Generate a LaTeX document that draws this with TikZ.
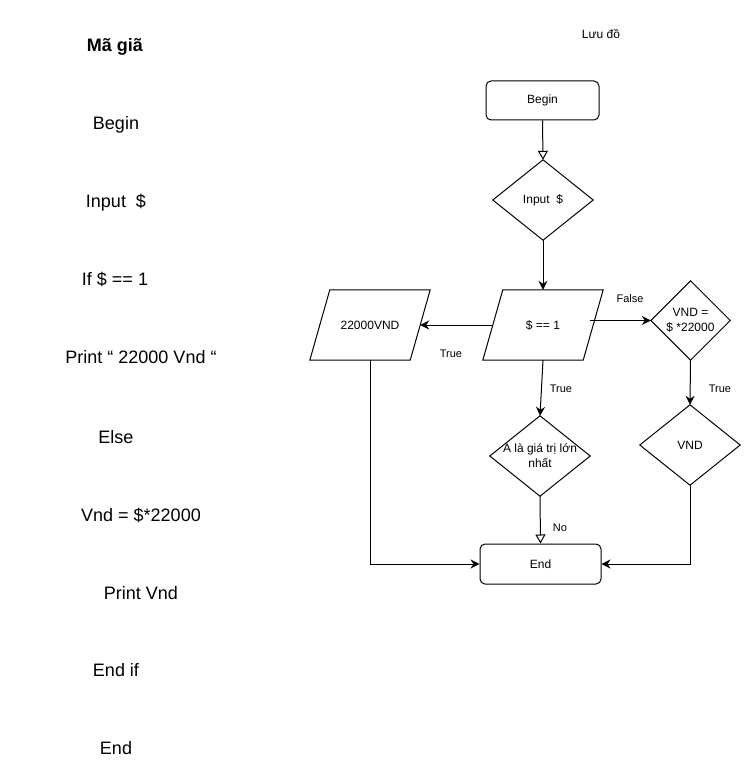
\documentclass[tikz,border=0pt]{standalone}
\usepackage{fontspec}
\setmainfont{Liberation Sans}
\usetikzlibrary{arrows.meta}
\begin{document}
\begin{tikzpicture}[x=1pt,y=-1pt,
  font=\fontsize{12}{15}\selectfont,
  lbl/.style={font=\fontsize{11}{13}\selectfont, inner sep=0},
  code/.style={font=\fontsize{18}{21}\selectfont, inner sep=0},
  box/.style={draw, rounded corners=5pt, line width=1pt, inner sep=0},
  shp/.style={inner sep=0, align=center},
  outl/.style={line width=1pt, line join=miter},
  flow/.style={-{Stealth[length=9pt,width=9pt,inset=3pt]}, line width=1pt},
  oflow/.style={-{Triangle[open,length=9pt,width=10pt]}, line width=1pt},
]
\useasboundingbox (0,0) rectangle (746,781);

% ---- pseudo-code column ----
\node[code, font=\fontsize{18}{21}\selectfont\bfseries] (t0) at (115,47) {Mã giã};
\node[code] (t1) at (116,125) {Begin};
\node[code] (t2) at (116,203) {Input\ \ \$};
\node[code] (t3) at (115,279) {If \$ == 1};
\node[code] (t4) at (141,357) {Print “ 22000 Vnd “};
\node[code] (t5) at (116,437) {Else};
\node[code] (t6) at (141,515) {Vnd = \$*22000};
\node[code] (t7) at (141,593) {Print Vnd};
\node[code] (t8) at (116,670) {End if};
\node[code] (t9) at (116,748) {End};

% ---- flowchart ----
\node[shp] (title) at (601,34) {Lưu đồ};

\node[box, minimum width=113pt, minimum height=39pt] (begin) at (542.5,100.5) {Begin};

\node[shp, minimum width=100pt, minimum height=80pt] (input) at (543,200) {Input\ \ \$};
\draw[outl] (input.north) -- (input.east) -- (input.south) -- (input.west) -- cycle;

\node[shp, minimum width=100pt, minimum height=70pt] (eq) at (543,325) {\$ == 1};
\draw[outl] ([xshift=10pt]eq.north west) -- ([xshift=10pt]eq.north east)
  -- ([xshift=-10pt]eq.south east) -- ([xshift=-10pt]eq.south west) -- cycle;

\node[shp, minimum width=100pt, minimum height=70pt] (p22) at (370,325) {22000VND};
\draw[outl] ([xshift=10pt]p22.north west) -- ([xshift=10pt]p22.north east)
  -- ([xshift=-10pt]p22.south east) -- ([xshift=-10pt]p22.south west) -- cycle;

\node[shp, minimum width=79pt, minimum height=79pt] (vnd1) at (690.5,320.5) {VND =\\\$ *22000};
\draw[outl] (vnd1.north) -- (vnd1.east) -- (vnd1.south) -- (vnd1.west) -- cycle;

\node[shp, minimum width=100pt, minimum height=80pt] (dA) at (540,456) {A là giá trị lớn\\nhất};
\draw[outl] (dA.north) -- (dA.east) -- (dA.south) -- (dA.west) -- cycle;

\node[shp, minimum width=100pt, minimum height=80pt] (vnd2) at (690,445) {VND};
\draw[outl] (vnd2.north) -- (vnd2.east) -- (vnd2.south) -- (vnd2.west) -- cycle;

\node[box, minimum width=121pt, minimum height=40pt] (end) at (540.5,564) {End};

% ---- connectors ----
\draw[oflow] (begin.south) -- (input.north);
\draw[flow] (input.south) -- (eq.north);
\draw[flow] (eq.west) -- (p22.east);
\node[lbl] (lt1) at (451,354) {True};
\coordinate (fs) at ([xshift=-3pt]eq.east);
\draw[flow] (fs |- vnd1.west) -- (vnd1.west);
\node[lbl] (lf) at (630,299) {False};
\draw[flow] (eq.south) -- (dA.north);
\node[lbl] (lt2) at (561,389) {True};
\draw[flow] (vnd1.south) -- (vnd2.north);
\node[lbl] (lt3) at (720,389) {True};
\draw[oflow] (dA.south) -- (end.north);
\node[lbl] (lno) at (560,528) {No};
\draw[flow] (p22.south) |- (end.west);
\draw[flow] (vnd2.south) |- (end.east);
\end{tikzpicture}
\end{document}
